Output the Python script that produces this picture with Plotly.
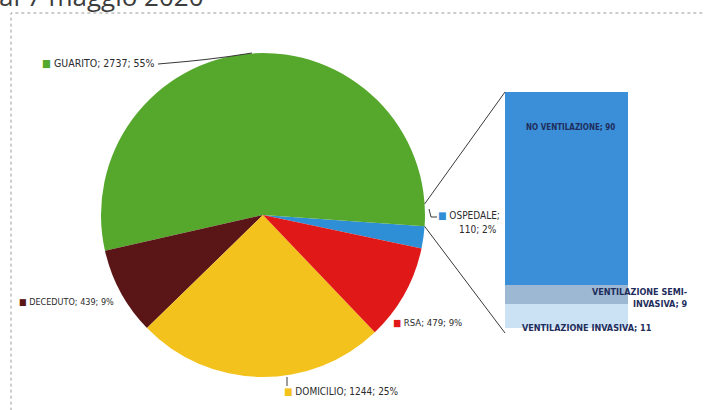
import math
import plotly.graph_objects as go

# pie data (Excel order, counterclockwise from the OSPEDALE slice)
categories = ["OSPEDALE", "GUARITO", "DECEDUTO", "DOMICILIO", "RSA"]
counts = [110, 2737, 439, 1244, 479]
percents = ["2%", "55%", "9%", "25%", "9%"]
pie_colors = ["#2f8fd6", "#56a82c", "#5a1616", "#f4c21c", "#e01818"]

# breakdown of OSPEDALE (stacked bar, bottom to top)
vent_labels = ["VENTILAZIONE INVASIVA", "VENTILAZIONE SEMI-INVASIVA", "NO VENTILAZIONE"]
vent_values = [11, 9, 90]
vent_colors = ["#cbe2f4", "#9db8d2", "#3b8fd8"]

W, H = 704, 410
cx, cy, r = 263, 215, 162      # pie centre / radius in px
rotation = 94


def px(x):
    return x / W


def py(y):
    return 1 - y / H


fig = go.Figure()

fig.add_trace(go.Pie(
    labels=categories, values=counts, sort=False, direction="counterclockwise",
    rotation=rotation, marker=dict(colors=pie_colors, line=dict(width=0)),
    textinfo="none", hoverinfo="label+value+percent", showlegend=False,
    domain=dict(x=[px(cx - r), px(cx + r)], y=[py(cy + r), py(cy - r)]),
))

for lab, val, col in zip(vent_labels, vent_values, vent_colors):
    fig.add_trace(go.Bar(x=["OSPEDALE"], y=[val], name=lab, marker=dict(color=col, line=dict(width=0)),
                         showlegend=False, width=1))

bar_x0, bar_x1, bar_top, bar_bot = 505, 628, 92, 328
fig.update_layout(
    barmode="stack", bargap=0,
    xaxis=dict(domain=[px(bar_x0), px(bar_x1)], visible=False, fixedrange=True),
    yaxis=dict(domain=[py(bar_bot), py(bar_top)], range=[0, sum(vent_values)], visible=False),
    width=W, height=H, margin=dict(l=0, r=0, t=0, b=0),
    paper_bgcolor="white", plot_bgcolor="rgba(0,0,0,0)",
)

# connector lines from the OSPEDALE slice edges to the bar
a0 = math.radians(90 - rotation)
a1 = a0 + 2 * math.pi * counts[0] / sum(counts)
top_edge = (cx + r * math.cos(a1), cy - r * math.sin(a1))
bot_edge = (cx + r * math.cos(a0), cy - r * math.sin(a0))
line_style = dict(color="#3a3a3a", width=1)
fig.add_shape(type="line", xref="paper", yref="paper", x0=px(top_edge[0]), y0=py(top_edge[1]),
              x1=px(bar_x0), y1=py(bar_top), line=line_style)
fig.add_shape(type="line", xref="paper", yref="paper", x0=px(bot_edge[0]), y0=py(bot_edge[1]),
              x1=px(bar_x0), y1=py(bar_bot + 5), line=line_style)

# leader lines
fig.add_shape(type="path", xref="paper", yref="paper",
              path=f"M {px(158)},{py(64)} Q {px(210)},{py(60)} {px(252)},{py(53)}",
              line=dict(color="#3a3a3a", width=1.2))
fig.add_shape(type="line", xref="paper", yref="paper", x0=px(287), y0=py(377), x1=px(287), y1=py(386),
              line=line_style)
fig.add_shape(type="path", xref="paper", yref="paper",
              path=f"M {px(429)},{py(209)} L {px(431)},{py(217)} L {px(437)},{py(217)}",
              line=line_style)

# dashed chart frame
fig.add_shape(type="rect", xref="paper", yref="paper", x0=px(11), y0=-0.02, x1=1.02, y1=py(13),
              line=dict(color="#9a9a9a", width=1, dash="dot"))

font = "DejaVu Sans Condensed, Liberation Sans Narrow, Arial Narrow, sans-serif"


def sq(col):
    return f"<span style='color:{col}'>■</span>"


def pie_label(i, x, y, size=10):
    t = f"{categories[i]}; {counts[i]}; {percents[i]}"
    fig.add_annotation(x=px(x), y=py(y), xref="paper", yref="paper", xanchor="left", yanchor="middle",
                       text=sq(pie_colors[i]) + " " + t, showarrow=False,
                       font=dict(family=font, size=size, color="#2a2a2a"))


pie_label(1, 40, 63, 10.5)
pie_label(2, 17, 302, 9)
pie_label(3, 282, 391)
pie_label(4, 391, 322, 9.5)
fig.add_annotation(x=px(436), y=py(215), xref="paper", yref="paper", xanchor="left", yanchor="middle",
                   text=sq(pie_colors[0]) + " " + f"{categories[0]};", showarrow=False,
                   font=dict(family=font, size=10, color="#2a2a2a"))
fig.add_annotation(x=px(457), y=py(229), xref="paper", yref="paper", xanchor="left", yanchor="middle",
                   text=f"{counts[0]}; {percents[0]}", showarrow=False,
                   font=dict(family=font, size=10, color="#2a2a2a"))

bar_font = dict(family=font, size=9, color="#1e2d5c")
fig.add_annotation(x=px(570), y=py(127), xref="paper", yref="paper", xanchor="center", yanchor="middle",
                   text=f"<b>{vent_labels[2]}; {vent_values[2]}</b>", showarrow=False,
                   font=dict(family=font, size=8, color="#1e2d5c"))
fig.add_annotation(x=px(690), y=py(298), xref="paper", yref="paper", xanchor="right", yanchor="middle",
                   text=f"<b>VENTILAZIONE SEMI-<br>INVASIVA; {vent_values[1]}</b>", showarrow=False,
                   align="right", font=bar_font)
fig.add_annotation(x=px(587), y=py(328), xref="paper", yref="paper", xanchor="center", yanchor="middle",
                   text=f"<b>{vent_labels[0]}; {vent_values[0]}</b>", showarrow=False, font=bar_font)

# cut-off title at the very top
fig.add_annotation(x=0, y=1, xref="paper", yref="paper", xanchor="left", yanchor="middle", yshift=4, xshift=-3,
                   text="al 7 maggio 2020", showarrow=False,
                   font=dict(family="Open Sans, sans-serif", size=26, color="#3c3c3c"))

fig.write_html("out.html", post_script="document.body.style.margin='0';",
               config={"displayModeBar": False})
